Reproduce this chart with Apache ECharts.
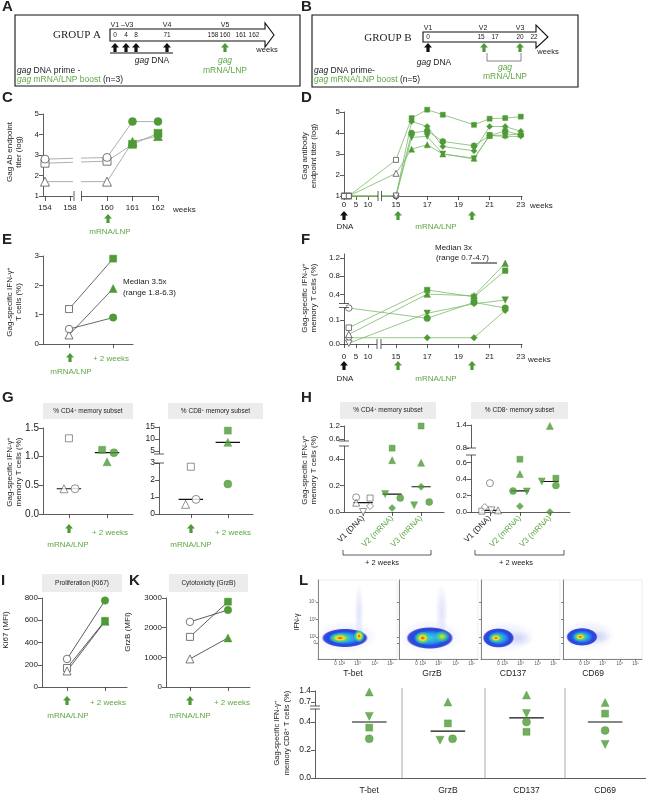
<!DOCTYPE html>
<html>
<head>
<meta charset="utf-8">
<script src="https://cdn.jsdelivr.net/npm/echarts@6/dist/echarts.min.js"></script>
<style>
  html, body { margin: 0; padding: 0; background: #fff; }
  #main { width: 646px; height: 795px; }
</style>
</head>
<body>
<div id="main"></div>
<script>
var FONT = '"Liberation Sans", Arial, sans-serif';
var SERIF = '"Liberation Serif", "Times New Roman", serif';
var GREEN = '#4e9a37', TGREEN = '#5ea744', LINEG = '#7cba6b';

// ---------- data ----------
// C: group A Gag Ab titer (log)
var cTickWeeks = [154, 158, 160, 161, 162];
var cWeeks = [154, 160, 161, 162];
var cSquare = [2.6, 2.7, 3.52, 4.06];
var cCircle = [2.8, 2.88, 4.63, 4.63];
var cTriangle = [1.7, 1.7, 3.65, 3.92];

// D: group B Gag antibody endpoint titer (log)
var dfTickWeeks = [0, 5, 10, 15, 17, 19, 21, 23];
var dWeeks = [0, 2, 15, 16, 17, 18, 20, 21, 22, 23];
var dSquare = [1, 1, 2.72, 4.71, 5.11, 4.87, 4.39, 4.68, 4.71, 4.78];
var dCircle = [1, 1, 1, 4.0, 4.1, 3.6, 3.39, 3.88, 4.1, 3.9];
var dDiamond = [1, 1, 1, 4.55, 4.31, 3.36, 3.15, 4.31, 4.31, 4.08];
var dTriDown = [1, 1, 1, 3.79, 3.84, 3.0, 2.77, 3.88, 3.84, 3.84];
var dTriangle = [1, 1, 2.08, 3.23, 3.44, 3.0, 2.8, 3.88, 3.9, 3.96];

// E: group A IFN-g+ T cells (%)
var eSquare = [1.19, 2.91];
var eTriangle = [0.31, 1.89];
var eCircle = [0.51, 0.9];

// F: group B IFN-g+ memory T cells (%)
var fWeeks = [2, 17, 20, 22];
var fCircle = [0.15, 0.107, 0.23, 0.15];
var fSquare = [0.068, 0.5, 0.35, 0.92];
var fTriangle = [0.04, 0.41, 0.375, 1.08];
var fTriDown = [0.003, 0.128, 0.2, 0.28];
var fDiamond = [0.026, 0.026, 0.026, 0.14];
var fTicks = [0, 0.1, 0.4, 0.8, 1.2];

// G: group A memory subsets (rows: square, triangle, circle; cols: pre, +2 weeks)
var gShapes = ['square', 'triangle', 'circle'];
var gCD4 = [[1.32, 1.12], [0.44, 0.91], [0.44, 1.07]];
var gCD8 = [[2.78, 13.5], [0.57, 8.6], [0.86, 1.76]];
var gCD4Ticks = [0, 0.5, 1.0, 1.5];
var gCD8Ticks = [0, 1, 2, 3, 5, 10, 15];

// H: group B memory subsets (rows: circle, square, triangle, triDown, diamond; cols: V1, V2, V3)
var hShapes = ['circle', 'square', 'triangle', 'triDown', 'diamond'];
var hCats = ['V1 (DNA)', 'V2 (mRNA)', 'V3 (mRNA)'];
var hCD4 = [[0.11, 0.105, 0.075], [0.105, 0.48, 1.2], [0.07, 0.39, 0.37], [0.0, 0.135, 0.05], [0.045, 0.03, 0.19]];
var hCD8 = [[0.35, 0.255, 0.32], [0.01, 0.64, 0.41], [0.02, 0.46, 1.38], [0.02, 0.25, 0.37], [0.06, 0.07, 0.0]];
var hCD4Ticks = [0, 0.2, 0.4, 0.6, 1.2];
var hCD8Ticks = [0, 0.2, 0.4, 0.6, 0.8, 1.4];

// I, K: MFI (rows: circle, square, triangle)
var ikShapes = ['circle', 'square', 'triangle'];
var iKi67 = [[252, 777], [171, 595], [144, 590]];
var kGrzB = [[2196, 2596], [1690, 2876], [946, 1655]];

// L: CD8 co-expression (rows: triangle, triDown, square, circle)
var lCats = ['T-bet', 'GrzB', 'CD137', 'CD69'];
var lShapes = ['triangle', 'triDown', 'square', 'circle'];
var lVals = [[1.34, 0.7, 1.15, 0.68], [0.44, 0.27, 0.46, 0.24], [0.36, 0.39, 0.33, 0.46], [0.28, 0.28, 0.40, 0.34]];
var lTicks = [0, 0.2, 0.4, 0.7, 1.4];

// L flow plots: populations [x, y, spreadX, spreadY, level] in log decades
// level 0 envelope, 1 hot core, 2 warm core, 3 sparse cells
var flowMarkers = ['T-bet', 'GrzB', 'CD137', 'CD69'];
var flowPops = [
  [[1.8, 1.4, 4.0, 2.0, 3], [2.6, 2.9, 0.6, 3.8, 3], [1.7, 1.33, 2.95, 1.2, 0], [1.4, 1.33, 1.4, 0.65, 1], [2.6, 1.45, 0.7, 0.8, 1]],
  [[2.0, 1.4, 4.0, 2.2, 3], [2.7, 3.0, 0.8, 3.6, 3], [1.95, 1.33, 3.0, 1.4, 0], [1.5, 1.33, 1.05, 0.8, 1], [2.72, 1.42, 1.05, 0.8, 2]],
  [[1.6, 1.4, 3.6, 2.0, 3], [2.4, 1.3, 1.8, 1.0, 3], [1.1, 1.33, 2.0, 1.25, 0], [0.95, 1.33, 0.9, 0.6, 1]],
  [[1.6, 1.5, 3.4, 2.0, 3], [2.3, 1.4, 1.5, 0.9, 3], [1.2, 1.4, 2.0, 1.15, 0], [1.1, 1.4, 0.9, 0.55, 1]]
];
var flowXTicks = [1.1, 1.5, 2.5, 3.6, 4.6], flowXLabels = ['0', '10²', '10³', '10⁴', '10⁵'];
var flowYTicks = [1.0, 1.4, 2.5, 3.6], flowYLabels = ['0', '10²', '10³', '10⁴'];

// dot jitter (layout only)
var gCD4Jit = [[0, -0.13], [-0.13, 0], [0.16, 0.18]];
var gCD8Jit = [[0, 0], [-0.14, 0], [0.14, 0]];
var hCD4Jit = [[-0.24, 0.28, 0.28], [0.24, 0, 0], [-0.24, 0, 0], [0, -0.24, -0.24], [0.24, 0, 0]];
var hCD8Jit = [[0, -0.23, 0.2], [-0.27, 0, 0.2], [0.27, 0, 0], [0.05, 0.23, -0.27], [-0.17, 0, 0]];
var lJit = [[0, 0, 0, 0], [0, -0.1, 0, 0], [0, 0, 0, 0], [0, 0.06, 0, 0]];

// ---------- broken-axis scales ----------
function piece(knots) {
  return function (v) {
    for (var i = 1; i < knots.length; i++) {
      if (v <= knots[i][0] || i === knots.length - 1) {
        var a = knots[i - 1], b = knots[i];
        return a[1] + (v - a[0]) * (b[1] - a[1]) / (b[0] - a[0]);
      }
    }
  };
}
var fC = piece([[154, 2], [158, 27], [160, 64], [162, 115]]);
var fD = piece([[0, 0], [13.5, 32.4], [15, 52], [23, 176.8]]);
var gF = piece([[0, 0], [0.16, 38.4], [1.2, 86.2]]);
var gG = piece([[0, 0], [3, 51], [5, 63], [15, 87]]);
var gH4 = piece([[0, 0], [0.5, 66.5], [0.6, 73], [1.2, 86]]);
var gH8 = piece([[0, 0], [0.68, 56.1], [0.8, 64], [1.4, 86.8]]);
var gL = piece([[0, 0], [0.5, 70], [0.7, 76], [1.4, 87]]);
function ident(v) { return v; }
function dec(v) { return v.toFixed(1); }

// ---------- builders ----------
var grids = [], xAxes = [], yAxes = [], series = [], gfx = [];
var SYM = { circle: 'circle', square: 'rect', triangle: 'triangle', triDown: 'triangle', diamond: 'diamond' };
var OPEN = { color: '#fff', borderColor: '#555', borderWidth: 0.8 };
var FILL = { color: GREEN, borderColor: GREEN, borderWidth: 0.5 };

function near(arr, v) {
  for (var i = 0; i < arr.length; i++) if (Math.abs(arr[i] - v) < 1e-6) return i;
  return -1;
}
function axis(min, max, ticks, labels, o) {
  o = o || {};
  var a = {
    type: 'value', min: min, max: max,
    axisLine: { show: o.line !== false, onZero: false, lineStyle: { color: o.lineColor || '#333', width: 0.8 } },
    axisTick: { show: !!ticks && o.tick !== false, length: o.tickLen || 4, lineStyle: { color: o.lineColor || '#333', width: 0.8 } },
    axisLabel: { show: !!labels, fontSize: o.fs || 8, color: o.color || '#222', fontFamily: FONT, margin: o.margin || 4, rotate: o.rotate || 0 },
    splitLine: { show: false }
  };
  if (ticks) a.axisTick.customValues = ticks;
  if (labels) {
    a.axisLabel.customValues = ticks;
    a.axisLabel.formatter = function (v) { var i = near(ticks, v); return i < 0 ? '' : labels[i]; };
  }
  if (o.rich) a.axisLabel.rich = o.rich;
  return a;
}
function addGrid(l, t, w, h, xa, ya, extra) {
  var i = grids.length;
  var g = { left: l, top: t, width: w, height: h, containLabel: false, outerBoundsMode: 'none' };
  if (extra) for (var k in extra) g[k] = extra[k];
  grids.push(g);
  xa.gridIndex = i; ya.gridIndex = i; xa.position = 'bottom'; ya.position = 'left';
  xAxes.push(xa); yAxes.push(ya);
  return i;
}
function trace(gi, xs, ys, shape, size, lineColor, isOpen) {
  series.push({
    type: 'line', xAxisIndex: gi, yAxisIndex: gi, symbol: SYM[shape], symbolRotate: shape === 'triDown' ? 180 : 0,
    symbolSize: shape === 'square' ? size - 1 : size, showSymbol: true, clip: false, animation: false, z: 3,
    lineStyle: { color: lineColor, width: 0.8 },
    data: xs.map(function (x, i) { return { value: [x, ys[i]], itemStyle: isOpen(i) ? OPEN : FILL }; })
  });
}
function median(a) {
  var s = a.slice().sort(function (p, q) { return p - q; }), n = s.length;
  return n % 2 ? s[(n - 1) / 2] : (s[n / 2 - 1] + s[n / 2]) / 2;
}
function dotPanel(gi, shapes, vals, jit, map, size, openFirst, half) {
  var nCat = vals[0].length;
  for (var c = 0; c < nCat; c++) {
    var m = map(median(vals.map(function (r) { return r[c]; })));
    series.push({ type: 'line', xAxisIndex: gi, yAxisIndex: gi, data: [[c - half, m], [c + half, m]], symbol: 'none',
      lineStyle: { color: '#111', width: 1.2 }, z: 2, clip: false, animation: false, silent: true });
  }
  shapes.forEach(function (s, k) {
    series.push({
      type: 'scatter', xAxisIndex: gi, yAxisIndex: gi, symbol: SYM[s], symbolRotate: s === 'triDown' ? 180 : 0,
      symbolSize: s === 'square' ? size - 1 : size, clip: false, animation: false, z: 4,
      data: vals[k].map(function (v, c) { return { value: [c + jit[k][c], map(v)], itemStyle: (openFirst && c === 0) ? OPEN : FILL }; })
    });
  });
}
function radial(stops) {
  return { type: 'radial', x: 0.5, y: 0.5, r: 0.5, colorStops: stops.map(function (s) { return { offset: s[0], color: s[1] }; }) };
}
var HEAT = [
  radial([[0, '#38cfe0'], [0.45, '#2b92ea'], [0.72, '#1f4ade'], [0.9, 'rgba(22,32,205,0.8)'], [1, 'rgba(22,32,205,0)']]),
  radial([[0, '#e3241c'], [0.18, '#f59a20'], [0.36, '#efe63a'], [0.6, '#62d455'], [0.85, 'rgba(45,205,200,0.5)'], [1, 'rgba(45,205,200,0)']]),
  radial([[0, '#d9e63a'], [0.35, '#72d650'], [0.7, 'rgba(45,205,190,0.55)'], [1, 'rgba(45,205,190,0)']]),
  radial([[0, 'rgba(60,80,230,0.16)'], [0.6, 'rgba(60,80,230,0.07)'], [1, 'rgba(60,80,230,0)']])
];
function flowSeries(gi, pops) {
  series.push({
    type: 'custom', xAxisIndex: gi, yAxisIndex: gi, data: pops, clip: true, animation: false, z: 2, silent: true,
    renderItem: function (params, api) {
      var c = api.coord([api.value(0), api.value(1)]);
      var sx = api.size([api.value(2), 0])[0], sy = api.size([0, api.value(3)])[1];
      return { type: 'circle', x: c[0], y: c[1], scaleX: sx / sy, shape: { cx: 0, cy: 0, r: sy / 2 },
        style: { fill: HEAT[api.value(4)] } };
    }
  });
}

// graphics
function RICH(color, size) {
  return {
    s: { fontSize: size * 0.65, fontFamily: FONT, fill: color, verticalAlign: 'top' },
    i: { fontStyle: 'italic', fontSize: size, fontFamily: FONT, fill: color },
    gi: { fontStyle: 'italic', fontSize: size, fontFamily: FONT, fill: TGREEN },
    g: { fontSize: size, fontFamily: FONT, fill: TGREEN }
  };
}
function txt(x, y, s, o) {
  o = o || {};
  var col = o.color || '#222', sz = o.size || 8;
  gfx.push({ type: 'text', x: x, y: y, rotation: o.rot || 0, z: 50, silent: true,
    style: { text: s, fill: col, fontSize: sz, fontFamily: o.family || FONT, fontWeight: o.weight || 'normal',
      fontStyle: o.italic ? 'italic' : 'normal', align: o.align || 'center', verticalAlign: 'middle', rich: RICH(col, sz) } });
}
function ytitle(x, y, s, sz) { txt(x, y, s, { rot: Math.PI / 2, size: sz || 8 }); }
function poly(pts, fill, stroke, lw) {
  var st = { fill: fill || 'none' };
  if (stroke) { st.stroke = stroke; st.lineWidth = lw || 1; }
  gfx.push({ type: 'polygon', z: 50, silent: true, shape: { points: pts }, style: st });
}
function ln(x1, y1, x2, y2, c, w) {
  gfx.push({ type: 'line', z: 50, silent: true, shape: { x1: x1, y1: y1, x2: x2, y2: y2 }, style: { stroke: c || '#333', lineWidth: w || 0.8 } });
}
function box(x, y, w, h, fill, stroke, lw) {
  var st = { fill: fill || 'none' };
  if (stroke) { st.stroke = stroke; st.lineWidth = lw || 1; }
  gfx.push({ type: 'rect', z: 50, silent: true, shape: { x: x, y: y, width: w, height: h }, style: st });
}
function upArrow(cx, tip, color, w, h) {
  w = w || 8; h = h || 9;
  var hw = w / 2, sw = w * 0.2, hh = h * 0.5;
  poly([[cx, tip], [cx + hw, tip + hh], [cx + sw, tip + hh], [cx + sw, tip + h], [cx - sw, tip + h], [cx - sw, tip + hh], [cx - hw, tip + hh]], color);
}
function yBreak(x, y1, y2) { box(x - 2, y1, 4, y2 - y1, '#fff'); ln(x - 5, y1, x + 5, y1); ln(x - 5, y2, x + 5, y2); }
function xBreak(x1, x2, y) { box(x1, y - 2, x2 - x1, 4, '#fff'); ln(x1, y - 5, x1, y + 5); ln(x2, y - 5, x2, y + 5); }
function header(x, y, w, h, s) { box(x, y, w, h, '#ececec'); txt(x + w / 2, y + h / 2, s, { size: 6.5 }); }
function letter(x, y, s) { txt(x, y, s, { size: 15, weight: 'bold', align: 'left' }); }

// ---------- A / B schedules ----------
var aDoseLabels = ['0', '4', '8', '71', '158', '160', '161', '162'];
var bDoseLabels = ['0', '15', '17', '20', '22'];

letter(2, 7, 'A');
box(15, 15, 285, 71, 'none', '#111', 1.1);
txt(77, 35, 'GROUP A', { size: 11, family: SERIF });
poly([[110, 29], [265, 29], [265, 23], [274, 35], [265, 47], [265, 41], [110, 41]], '#fff', '#111', 1.1);
[115, 126, 136, 167, 213, 225, 241, 254].forEach(function (x, i) { txt(x, 35.5, aDoseLabels[i], { size: 6.5 }); });
txt(122, 25, 'V1 –V3', { size: 7 }); txt(167, 25, 'V4', { size: 7 }); txt(225, 25, 'V5', { size: 7 });
[115, 126, 136, 167].forEach(function (x) { upArrow(x, 43, '#111', 8, 9); });
ln(110, 53, 173, 53, '#111', 1);
txt(152, 61, '{i|gag} DNA', { size: 8.5 });
upArrow(225, 43, GREEN, 8, 9);
txt(225, 61, 'gag', { size: 8.5, color: TGREEN, italic: true });
txt(225, 71, 'mRNA/LNP', { size: 8.5, color: TGREEN });
txt(267, 50, 'weeks', { size: 7.5 });
txt(17, 71, '{i|gag} DNA prime -', { size: 8.5, align: 'left' });
txt(17, 80, '{gi|gag}{g| mRNA/LNP boost} (n=3)', { size: 8.5, align: 'left' });

letter(301, 7, 'B');
box(312, 15, 266, 72, 'none', '#111', 1.1);
txt(388, 38, 'GROUP B', { size: 11, family: SERIF });
poly([[423, 32], [536, 32], [536, 25], [548, 37], [536, 48], [536, 42], [423, 42]], '#fff', '#111', 1.1);
[428, 481, 495, 520, 534].forEach(function (x, i) { txt(x, 37.5, bDoseLabels[i], { size: 6.5 }); });
txt(428, 28, 'V1', { size: 7 }); txt(483, 28, 'V2', { size: 7 }); txt(520, 28, 'V3', { size: 7 });
upArrow(428, 43, '#111', 8, 9);
txt(434, 63, '{i|gag} DNA', { size: 8.5 });
upArrow(484, 43, GREEN, 8, 9); upArrow(520, 43, GREEN, 8, 9);
ln(487, 53, 487, 61, '#666', 0.8); ln(487, 61, 521, 61, '#666', 0.8); ln(521, 61, 521, 53, '#666', 0.8);
txt(505, 68, 'gag', { size: 8.5, color: TGREEN, italic: true });
txt(505, 77, 'mRNA/LNP', { size: 8.5, color: TGREEN });
txt(548, 52, 'weeks', { size: 7.5 });
txt(314, 71, '{i|gag} DNA prime-', { size: 8.5, align: 'left' });
txt(314, 80, '{gi|gag}{g| mRNA/LNP boost} (n=5)', { size: 8.5, align: 'left' });

// ---------- C ----------
letter(2, 98, 'C');
var gi = addGrid(43, 114, 115, 82,
  axis(0, 115, cTickWeeks.map(fC), cTickWeeks.map(String), { margin: 8, tickLen: 5 }),
  axis(1, 5, [1, 2, 3, 4, 5], ['1', '2', '3', '4', '5']));
trace(gi, cWeeks.map(fC), cSquare, 'square', 9, '#999', function (i) { return i < 2; });
trace(gi, cWeeks.map(fC), cCircle, 'circle', 8, '#999', function (i) { return i < 2; });
trace(gi, cWeeks.map(fC), cTriangle, 'triangle', 9, '#999', function (i) { return i < 2; });
box(73, 108, 8, 91, '#fff');
ln(74, 191, 74, 201); ln(81.5, 191, 81.5, 201);
ytitle(10, 152, 'Gag Ab endpoint'); ytitle(19, 152, 'titer (log)');
txt(173, 210, 'weeks', { size: 8, align: 'left' });
upArrow(108, 214, GREEN, 8, 9);
txt(110, 232, 'mRNA/LNP', { size: 8, color: TGREEN });

// ---------- D ----------
letter(301, 98, 'D');
gi = addGrid(344, 112, 178, 84,
  axis(0, 178, dfTickWeeks.map(fD), dfTickWeeks.map(String), { margin: 5 }),
  axis(1, 5, [1, 2, 3, 4, 5], ['1', '2', '3', '4', '5']));
[[dCircle, 'circle'], [dDiamond, 'diamond'], [dTriDown, 'triDown'], [dTriangle, 'triangle'], [dSquare, 'square']].forEach(function (s) {
  trace(gi, dWeeks.map(fD), s[0], s[1], 6, LINEG, function (i) { return i < 3; });
});
xBreak(378, 381.5, 196);
ytitle(305, 156, 'Gag antibody'); ytitle(314, 156, 'endpoint titer (log)');
txt(530, 206, 'weeks', { size: 8, align: 'left' });
upArrow(344, 211, '#111', 8, 9);
txt(345, 227, 'DNA', { size: 8 });
upArrow(398, 211, GREEN, 8, 9); upArrow(472, 211, GREEN, 8, 9);
txt(436, 227, 'mRNA/LNP', { size: 8, color: TGREEN });

// ---------- E ----------
letter(2, 240, 'E');
gi = addGrid(43, 256, 90, 88, axis(-0.59, 1.45, [0, 1], null), axis(0, 3, [0, 1, 2, 3], ['0', '1', '2', '3']));
trace(gi, [0, 1], eSquare, 'square', 8, '#444', function (i) { return i === 0; });
trace(gi, [0, 1], eTriangle, 'triangle', 8, '#444', function (i) { return i === 0; });
trace(gi, [0, 1], eCircle, 'circle', 7.5, '#444', function (i) { return i === 0; });
ytitle(10, 302, 'Gag-specific IFN-γ{s|+}'); ytitle(19, 302, 'T cells (%)');
txt(123, 282, 'Median 3.5x', { size: 8, align: 'left' });
txt(123, 293, '(range 1.8-6.3)', { size: 8, align: 'left' });
upArrow(70, 353, GREEN, 8, 9);
txt(111, 359, '+ 2 weeks', { size: 8, color: TGREEN });
txt(71, 372, 'mRNA/LNP', { size: 8, color: TGREEN });

// ---------- F ----------
letter(301, 240, 'F');
gi = addGrid(344, 254, 178, 90,
  axis(0, 178, dfTickWeeks.map(fD), dfTickWeeks.map(String), { margin: 9 }),
  axis(0, 90, fTicks.map(gF), fTicks.map(dec)));
[[fDiamond, 'diamond'], [fCircle, 'circle'], [fTriDown, 'triDown'], [fTriangle, 'triangle'], [fSquare, 'square']].forEach(function (s) {
  trace(gi, fWeeks.map(fD), s[0].map(gF), s[1], 6.5, LINEG, function (i) { return i === 0; });
});
yBreak(344, 303.5, 307.5);
xBreak(377, 381, 344);
ytitle(305, 298, 'Gag-specific IFN-γ{s|+}'); ytitle(314, 298, 'memory T cells (%)');
txt(435, 248, 'Median 3x', { size: 8, align: 'left' });
txt(436, 258, '(range 0.7-4.7)', { size: 8, align: 'left' });
ln(471, 263, 497, 263, '#111', 1);
txt(528, 360, 'weeks', { size: 8, align: 'left' });
upArrow(344, 361, '#111', 8, 9);
txt(345, 379, 'DNA', { size: 8 });
upArrow(398, 361, GREEN, 8, 9); upArrow(472, 361, GREEN, 8, 9);
txt(436, 379, 'mRNA/LNP', { size: 8, color: TGREEN });

// ---------- G ----------
letter(2, 398, 'G');
header(43, 403, 90, 16, '% CD4{s|+} memory subset');
header(168, 403, 95, 16, '% CD8{s|+} memory subset');
gi = addGrid(43, 428, 90, 86, axis(-0.68, 1.68, [0, 1], null), axis(0, 1.5, gCD4Ticks, gCD4Ticks.map(dec), { fs: 10 }));
dotPanel(gi, gShapes, gCD4, gCD4Jit, ident, 8, true, 0.32);
gi = addGrid(159, 427, 94, 87, axis(-0.86, 1.68, [0, 1], null), axis(0, 87, gCD8Ticks.map(gG), gCD8Ticks.map(String), { fs: 8.5 }));
dotPanel(gi, gShapes, gCD8, gCD8Jit, gG, 8, true, 0.33);
yBreak(159, 454, 463);
ytitle(10, 472, 'Gag-specific IFN-γ{s|+}'); ytitle(19, 472, 'memory T cells (%)');
upArrow(69, 524, GREEN, 8, 9); upArrow(191, 524, GREEN, 8, 9);
txt(110, 533, '+ 2 weeks', { size: 8, color: TGREEN }); txt(233, 533, '+ 2 weeks', { size: 8, color: TGREEN });
txt(68, 545, 'mRNA/LNP', { size: 8, color: TGREEN }); txt(191, 545, 'mRNA/LNP', { size: 8, color: TGREEN });

// ---------- H ----------
letter(301, 398, 'H');
header(340, 402, 96, 17, '% CD4{s|+} memory subset');
header(471, 402, 97, 17, '% CD8{s|+} memory subset');
var hLabels = hCats.map(function (c, i) { return i === 0 ? '{b|' + c + '}' : '{g|' + c + '}'; });
var hRich = { b: { color: '#222', fontSize: 8, fontFamily: FONT }, g: { color: TGREEN, fontSize: 8, fontFamily: FONT } };
gi = addGrid(344, 426, 100, 86, axis(-0.66, 2.79, [0, 1, 2], hLabels, { rotate: 45, rich: hRich, margin: 5 }),
  axis(0, 86, hCD4Ticks.map(gH4), hCD4Ticks.map(dec)));
dotPanel(gi, hShapes, hCD4, hCD4Jit, gH4, 7, true, 0.33);
yBreak(344, 441, 446);
gi = addGrid(471, 425, 99, 87, axis(-0.63, 2.67, [0, 1, 2], hLabels, { rotate: 45, rich: hRich, margin: 5 }),
  axis(0, 87, hCD8Ticks.map(gH8), hCD8Ticks.map(dec)));
dotPanel(gi, hShapes, hCD8, hCD8Jit, gH8, 7, true, 0.3);
yBreak(471, 448, 455);
ytitle(305, 470, 'Gag-specific IFN-γ{s|+}'); ytitle(314, 470, 'memory T cells (%)');
ln(343, 550, 343, 555); ln(343, 555, 431, 555); ln(431, 555, 431, 550);
txt(382, 563, '+ 2 weeks', { size: 7.5 });
ln(475, 550, 475, 555); ln(475, 555, 564, 555); ln(564, 555, 564, 550);
txt(516, 563, '+ 2 weeks', { size: 7.5 });

// ---------- I ----------
letter(1, 581, 'I');
header(42, 574, 80, 18, 'Proliferation (Ki67)');
gi = addGrid(42, 598, 85, 89, axis(-0.66, 1.58, [0, 1], null), axis(0, 800, [0, 200, 400, 600, 800], ['0', '200', '400', '600', '800']));
ikShapes.forEach(function (s, k) { trace(gi, [0, 1], iKi67[k], s, s === 'circle' ? 7.5 : 8, '#333', function (i) { return i === 0; }); });
ytitle(6, 630, 'Ki67 (MFI)');
upArrow(67, 696, GREEN, 8, 9);
txt(108, 703, '+ 2 weeks', { size: 8, color: TGREEN });
txt(68, 716, 'mRNA/LNP', { size: 8, color: TGREEN });

// ---------- K ----------
letter(129, 581, 'K');
header(169, 574, 79, 18, 'Cytotoxicity (GrzB)');
gi = addGrid(166, 598, 84, 89, axis(-0.63, 1.58, [0, 1], null), axis(0, 3000, [0, 1000, 2000, 3000], ['0', '1000', '2000', '3000']));
ikShapes.forEach(function (s, k) { trace(gi, [0, 1], kGrzB[k], s, s === 'circle' ? 7.5 : 8, '#333', function (i) { return i === 0; }); });
ytitle(128, 632, 'GrzB (MFI)');
upArrow(190, 696, GREEN, 8, 9);
txt(232, 703, '+ 2 weeks', { size: 8, color: TGREEN });
txt(190, 716, 'mRNA/LNP', { size: 8, color: TGREEN });

// ---------- L ----------
letter(299, 581, 'L');
[318, 399, 481, 563].forEach(function (left, p) {
  var fg = addGrid(left, 580, 79, 79,
    axis(0, 5, flowXTicks, flowXLabels, { fs: 4.5, margin: 2, tickLen: 2, lineColor: '#666', color: '#555' }),
    axis(0, 5, flowYTicks, p === 0 ? flowYLabels : null, { fs: 4.5, margin: 2, tickLen: 2, lineColor: '#666', color: '#555' }),
    { show: true, borderColor: '#e2e2e2', borderWidth: 0.6 });
  flowSeries(fg, flowPops[p]);
  txt(left + [35, 33, 32, 30][p], 674, flowMarkers[p], { size: 8.5 });
});
txt(297, 622, 'IFN-γ', { rot: Math.PI / 2, size: 7 });
gi = addGrid(315, 691, 331, 87, axis(-0.69, 3.52, [0, 1, 2, 3], lCats, { tick: false, fs: 8.5, margin: 8 }),
  axis(0, 87, lTicks.map(gL), lTicks.map(dec), { fs: 8.5 }));
dotPanel(gi, lShapes, lVals, lJit, gL, 8, false, 0.22);
yBreak(315, 706, 709);
[402, 485, 565].forEach(function (x) { ln(x, 688, x, 778, '#aaa', 1); });
ytitle(277, 733, 'Gag-specific IFN-γ{s|+}', 7.5); ytitle(287, 733, 'memory CD8{s|+} T cells (%)', 7.5);

// ---------- render ----------
var chart = echarts.init(document.getElementById('main'), null, { renderer: 'canvas' });
chart.setOption({
  animation: false,
  backgroundColor: '#fff',
  textStyle: { fontFamily: FONT },
  grid: grids,
  xAxis: xAxes,
  yAxis: yAxes,
  series: series,
  graphic: { elements: gfx }
});
</script>
</body>
</html>
